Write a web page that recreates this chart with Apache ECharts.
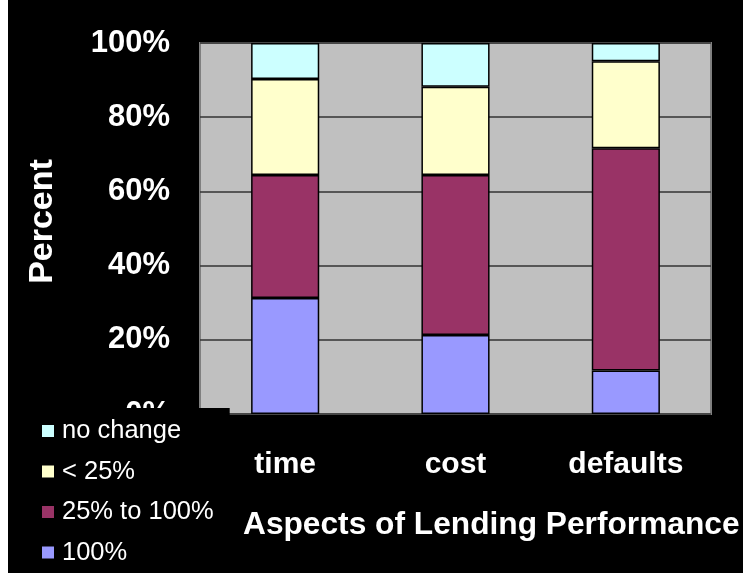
<!DOCTYPE html>
<html>
<head>
<meta charset="utf-8">
<script src="https://cdn.jsdelivr.net/npm/echarts@6/dist/echarts.min.js"></script>
<style>
  html, body { margin: 0; padding: 0; background: #000; }
  #chart { width: 743px; height: 573px; }
</style>
</head>
<body>
<div id="chart"></div>
<script>
// Data (percent of responses)
const categories = ['time', 'cost', 'defaults'];
const seriesNames = ['100%', '25% to 100%', '< 25%', 'no change'];
const full = [31.3, 21.3, 11.7];          // 100%
const quarterToFull = [33.1, 43.1, 59.9]; // 25% to 100%
const underQuarter = [25.9, 23.8, 23.5];  // < 25%
const noChange = [9.7, 11.8, 4.9];        // no change
const yTicks = [0, 20, 40, 60, 80, 100];
const legendOrder = ['no change', '< 25%', '25% to 100%', '100%'];

const colors = {
  '100%': '#9999FF',
  '25% to 100%': '#993366',
  '< 25%': '#FFFFCC',
  'no change': '#CCFFFF'
};
const values = {
  '100%': full,
  '25% to 100%': quarterToFull,
  '< 25%': underQuarter,
  'no change': noChange
};

const font = '"Liberation Sans", Arial, sans-serif';
const chart = echarts.init(document.getElementById('chart'));

chart.setOption({
  backgroundColor: '#000000',
  animation: false,
  grid: {
    left: 200, top: 43, right: 32, bottom: 159,
    show: true,
    backgroundColor: '#C0C0C0',
    borderColor: '#808080',
    borderWidth: 2
  },
  legend: {
    orient: 'vertical',
    left: 8,
    top: 408,
    height: 165,
    data: legendOrder,
    icon: 'rect',
    itemWidth: 12,
    itemHeight: 12,
    itemGap: 12.5,
    backgroundColor: '#000000',
    padding: [9, 16, 0, 34],
    z: 10,
    itemStyle: { borderWidth: 0 },
    textStyle: {
      color: '#FFFFFF',
      fontFamily: font,
      fontSize: 25.5,
      lineHeight: 28,
      padding: [0, 0, 0, 3]
    }
  },
  xAxis: {
    type: 'category',
    data: categories,
    axisLine: { show: false },
    axisTick: { show: false },
    axisLabel: {
      color: '#FFFFFF',
      fontFamily: font,
      fontWeight: 'bold',
      fontSize: 30,
      margin: 36
    },
    splitLine: { show: false }
  },
  yAxis: {
    type: 'value',
    min: yTicks[0],
    max: yTicks[yTicks.length - 1],
    interval: yTicks[1] - yTicks[0],
    name: 'Percent',
    nameLocation: 'middle',
    nameRotate: 90,
    nameGap: 140,
    nameTextStyle: {
      color: '#FFFFFF',
      fontFamily: font,
      fontWeight: 'bold',
      fontSize: 34,
      padding: [0, 0, 0, 14]
    },
    axisLine: { show: false },
    axisTick: { show: false },
    axisLabel: {
      color: '#FFFFFF',
      fontFamily: font,
      fontWeight: 'bold',
      fontSize: 31,
      margin: 30,
      formatter: '{value}%'
    },
    splitLine: { show: true, lineStyle: { color: '#333333', width: 1.5 } }
  },
  graphic: [
    { type: 'rect', left: 0, top: 0, shape: { x: 0, y: 0, width: 8, height: 573 }, style: { fill: '#FFFFFF' }, z: 100 },
    {
      type: 'text',
      x: 243, y: 525,
      style: {
        text: 'Aspects of Lending Performance',
        fill: '#FFFFFF',
        font: 'bold 31.7px "Liberation Sans", Arial, sans-serif',
        textAlign: 'left',
        textVerticalAlign: 'middle'
      },
      z: 100
    }
  ],
  series: seriesNames.map(name => ({
    name: name,
    type: 'bar',
    stack: 'total',
    barWidth: '40%',
    data: values[name],
    itemStyle: { color: colors[name], borderColor: '#000000', borderWidth: 1.5 }
  }))
});
</script>
</body>
</html>
